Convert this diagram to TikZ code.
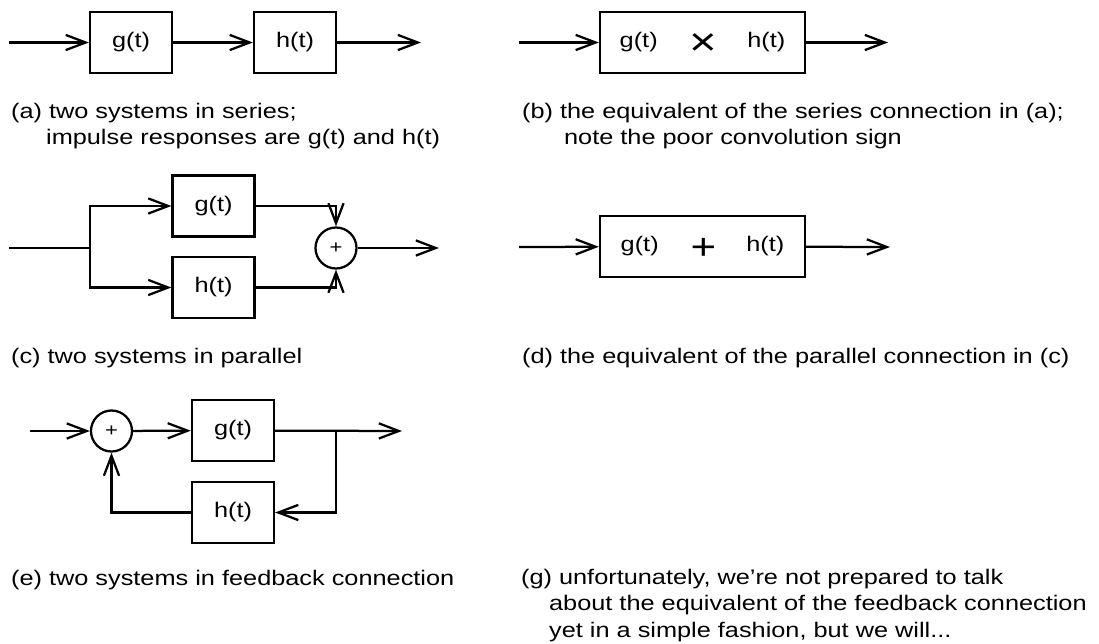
\documentclass[tikz,border=0pt]{standalone}
\usepackage{fontspec}
\setmainfont[FakeStretch=1.2]{Liberation Sans}
\usetikzlibrary{positioning,arrows.meta}

\begin{document}
\begin{tikzpicture}[x=0.025cm, y=-0.025cm, line width=1.6pt,
    >={Straight Barb[length=5mm,width=3.8mm]},
    sysbox/.style={draw, rectangle, inner sep=0pt, minimum width=2.05cm, minimum height=1.525cm, font=\fontsize{15}{18}\selectfont},
    widebox/.style={sysbox, minimum width=5.125cm},
    sumnode/.style={draw, circle, inner sep=0pt, minimum size=1.025cm, font=\fontsize{13}{13}\selectfont},
    caption/.style={anchor=base west, align=left, inner sep=0pt, font=\fontsize{15}{18.8}\selectfont}]
    \useasboundingbox (0,0) rectangle (1099,644);

    % (a) series
    \coordinate (ina) at (9,42.5);
    \node (ga) [sysbox] at (131,42.5) {g(t)};
    \node (ha) [sysbox] at (295,42.5) {h(t)};
    \coordinate (outa) at (421,42.5);
    \draw[->] (ina) -- (ga);
    \draw[->] (ga) -- (ha);
    \draw[->] (ha) -- (outa);
    % base anchor sits on the last line
    \node (capa) [caption] at (10,144.5) {(a) two systems in series;\\\hspace*{0.875cm}impulse responses are g(t) and h(t)};

    % (b) series equivalent
    \coordinate (inb) at (519,42.5);
    \node (ghb) [widebox] at (702.5,42.5) {g(t)\hspace{0.8cm}\smash{\raisebox{-0.2cm}{\fontsize{28}{28}\selectfont ×}}\hspace{0.75cm}h(t)};
    \coordinate (outb) at (888,42.5);
    \draw[->] (inb) -- (ghb);
    \draw[->] (ghb) -- (outb);
    \node (capb) [caption] at (521,144.5) {(b) the equivalent of the series connection in (a);\\\hspace*{1.05cm}note the poor convolution sign};

    % (c) parallel
    \coordinate (inc) at (9,248);
    \coordinate (split) at (90,248);
    \node (gc) [sysbox] at (213.5,206) {g(t)};
    \node (hc) [sysbox] at (213.5,287.5) {h(t)};
    \node (sumc) [sumnode] at (336,248) {+};
    \coordinate (outc) at (439,248);
    \draw (inc) -- (split);
    \draw[->] (split) |- (gc);
    \draw[->] (split) |- (hc);
    \draw[->] (gc) -| (sumc);
    \draw[->] (hc) -| (sumc);
    \draw[->] (sumc) -- (outc);
    \node (capc) [caption] at (10,363) {(c) two systems in parallel};

    % (d) parallel equivalent
    \coordinate (ind) at (519,247);
    \node (ghd) [widebox] at (702.5,246.5) {g(t)\hspace{0.8cm}\smash{\raisebox{-0.18cm}{\fontsize{26}{26}\selectfont +}}\hspace{0.75cm}h(t)};
    \coordinate (outd) at (890,247);
    \draw[->] (ind) -- (ghd);
    \draw[->] (ghd) -- (outd);
    \node (capd) [caption] at (521,363) {(d) the equivalent of the parallel connection in (c)};

    % (e) feedback
    \coordinate (ine) at (30,431);
    \node (sume) [sumnode] at (111.5,431) {+};
    \node (ge) [sysbox] at (233,430.5) {g(t)};
    \node (he) [sysbox] at (233,512.5) {h(t)};
    \coordinate (tap) at (336,431);
    \coordinate (oute) at (402,431);
    \draw[->] (ine) -- (sume);
    \draw[->] (sume) -- (ge);
    \draw[->] (ge) -- (oute);
    \draw[->] (tap) |- (he);
    \draw[->] (he) -| (sume);
    \node (cape) [caption] at (10,585) {(e) two systems in feedback connection};

    % (g) no equivalent yet
    \node (capg) [caption] at (520,637) {(g) unfortunately, we’re not prepared to talk\\\hspace*{0.7cm}about the equivalent of the feedback connection\\\hspace*{0.7cm}yet in a simple fashion, but we will...};
\end{tikzpicture}
\end{document}
